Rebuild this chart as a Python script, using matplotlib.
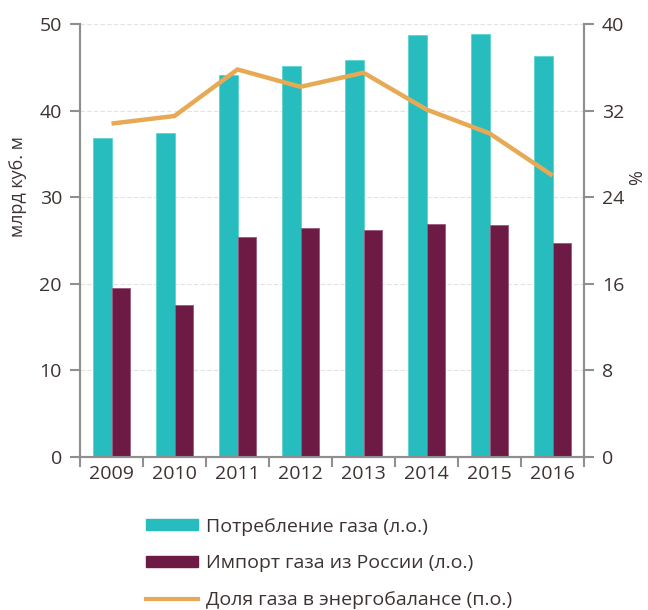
import matplotlib.pyplot as plt
from matplotlib.patches import Patch
from matplotlib.lines import Line2D
import numpy as np

plt.rcParams['font.family'] = ['Open Sans', 'DejaVu Sans']

# data
years = ['2009', '2010', '2011', '2012', '2013', '2014', '2015', '2016']
consumption = [36.8, 37.4, 44.1, 45.2, 45.9, 48.7, 48.8, 46.3]   # left axis
import_russia = [19.5, 17.6, 25.4, 26.4, 26.2, 26.9, 26.8, 24.7]  # left axis
gas_share = [30.8, 31.5, 35.8, 34.2, 35.5, 32.1, 29.9, 26.0]      # right axis, %

teal = '#27BDBE'
maroon = '#6D1A45'
orange = '#E8A955'
txt = '#3d3232'
spine_c = '#8f8f8f'

fig = plt.figure(figsize=(6.48, 6.10), dpi=100)
ax = fig.add_axes([80/648, 1-457/610, 504/648, 433/610])
ax2 = ax.twinx()

x = np.arange(len(years))
w = 0.286
ax.bar(x - w/2, consumption, w, color=teal, edgecolor='#5fd3d3', linewidth=0.6, zorder=3)
ax.bar(x + w/2, import_russia, w, color=maroon, edgecolor='#9a5a7a', linewidth=0.6, zorder=3)
ax2.plot(x, gas_share, color=orange, lw=3.2, solid_capstyle='butt', zorder=4)

ax.set_xlim(-0.5, len(years) - 0.5)
ax.set_ylim(0, 50)
ax.set_yticks(range(0, 51, 10))
ax2.set_ylim(0, 40)
ax2.set_yticks(range(0, 41, 8))

# ticks at category boundaries, labels at centres
ax.set_xticks(np.arange(-0.5, len(years), 1))
ax.set_xticklabels([])
ax.set_xticks(x, minor=True)
ax.set_xticklabels(years, minor=True)
ax.tick_params(axis='x', which='minor', length=0, pad=6, labelsize=14, colors=txt)
ax.tick_params(axis='x', which='major', length=7, width=1.5, color=spine_c, direction='out')
ax.tick_params(axis='y', length=7, width=1.5, color=spine_c, labelsize=14, labelcolor=txt, pad=6)
ax2.tick_params(axis='y', length=7, width=1.5, color=spine_c, labelsize=14, labelcolor=txt, pad=6)

ax.grid(axis='y', color='#e2e2e2', linestyle=(0, (4, 2)), lw=0.8, zorder=0)
ax.set_axisbelow(True)

for a in (ax, ax2):
    a.spines['top'].set_visible(False)
    for s in ('left', 'right', 'bottom'):
        a.spines[s].set_color(spine_c)
        a.spines[s].set_linewidth(1.5)

ax.set_ylabel('млрд куб. м', fontsize=13, color=txt)
ax.yaxis.set_label_coords(-0.105, 0.625)
ax2.set_ylabel('%', fontsize=13, color=txt)
ax2.yaxis.set_label_coords(1.087, 0.645)

handles = [Patch(color=teal), Patch(color=maroon), Line2D([], [], color=orange, lw=3)]
labels = ['Потребление газа (л.о.)', 'Импорт газа из России (л.о.)',
          'Доля газа в энергобалансе (п.о.)']
leg = fig.legend(handles, labels, loc='upper left', bbox_to_anchor=(138/648, 1-510/610),
                 frameon=False, fontsize=14, handlelength=2.7, handleheight=0.5,
                 labelspacing=0.95, handletextpad=0.4, borderaxespad=0)
for t in leg.get_texts():
    t.set_color(txt)

fig.savefig('out.png', dpi=100)
